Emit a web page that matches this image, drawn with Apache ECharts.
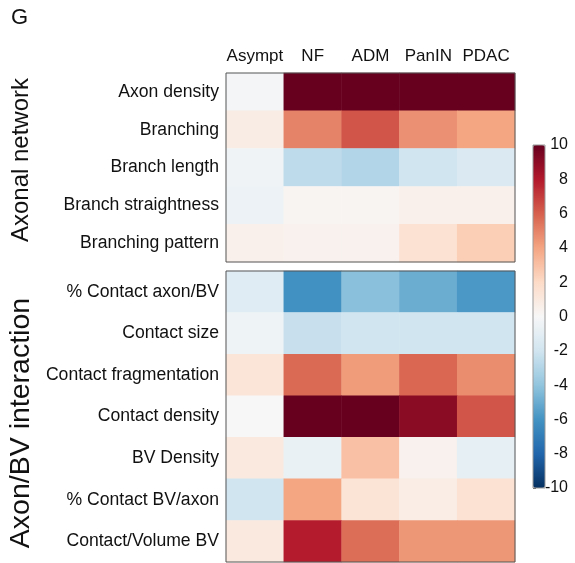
<!DOCTYPE html>
<html>
<head>
<meta charset="utf-8">
<script src="https://cdn.jsdelivr.net/npm/echarts@6/dist/echarts.min.js"></script>
<style>html,body{margin:0;padding:0;background:#fff}#c{width:575px;height:563px}</style>
</head>
<body>
<div id="c"></div>
<script>
var columns = ['Asympt', 'NF', 'ADM', 'PanIN', 'PDAC'];
var networkRows = ['Axon density', 'Branching', 'Branch length', 'Branch straightness', 'Branching pattern'];
var interactionRows = ['% Contact axon/BV', 'Contact size', 'Contact fragmentation', 'Contact density', 'BV Density', '% Contact BV/axon', 'Contact/Volume BV'];
var networkValues = [
  [-0.2, 10, 10, 10, 10],
  [0.8, 5.0, 6.3, 4.6, 4.0],
  [-0.4, -2.6, -3.0, -2.0, -1.5],
  [-0.6, 0.2, 0.2, 0.5, 0.5],
  [0.5, 0.4, 0.4, 1.5, 2.5]
];
var interactionValues = [
  [-1.2, -6.1, -4.2, -5.0, -5.8],
  [-0.5, -2.3, -2.0, -2.0, -2.0],
  [1.3, 5.7, 4.3, 5.8, 4.7],
  [0.0, 10, 10, 9.1, 6.3],
  [1.0, -0.7, 3.0, 0.4, -0.9],
  [-2.0, 4.0, 1.4, 0.7, 1.5],
  [1.0, 7.9, 5.6, 4.4, 4.4]
];
var colorbarTicks = [-10, 10, 2];
var groupTitles = ['Axonal network', 'Axon/BV interaction'];
var panelLetter = 'G';

function toCells(values) {
  var out = [];
  values.forEach(function (row, r) {
    row.forEach(function (v, c) { out.push([c, r, v]); });
  });
  return out;
}

var FONT = 'Liberation Sans, Arial, sans-serif';
var chart = echarts.init(document.getElementById('c'), null, {renderer: 'canvas'});
var catAxisCommon = {
  type: 'category',
  axisLine: {show: false},
  axisTick: {show: false},
  splitLine: {show: false},
  splitArea: {show: false}
};
chart.setOption({
  animation: false,
  backgroundColor: '#fff',
  grid: [
    {left: 226, top: 73, width: 289, height: 189, show: true, borderColor: '#555', borderWidth: 1, backgroundColor: 'transparent', z: 10},
    {left: 226, top: 271, width: 289, height: 291, show: true, borderColor: '#555', borderWidth: 1, backgroundColor: 'transparent', z: 10},
    {left: 533, top: 145, width: 12, height: 343, show: true, borderColor: '#999', borderWidth: 1, backgroundColor: 'transparent', z: 10}
  ],
  xAxis: [
    Object.assign({}, catAxisCommon, {gridIndex: 0, data: columns, position: 'top',
      axisLabel: {show: true, interval: 0, color: '#111', fontSize: 17, fontFamily: FONT, margin: 8}}),
    Object.assign({}, catAxisCommon, {gridIndex: 1, data: columns, axisLabel: {show: false}}),
    {type: 'value', gridIndex: 2, show: false, min: 0, max: 1}
  ],
  yAxis: [
    Object.assign({}, catAxisCommon, {gridIndex: 0, data: networkRows, inverse: true,
      axisLabel: {show: true, interval: 0, color: '#111', fontSize: 17.6, fontFamily: FONT, margin: 7}}),
    Object.assign({}, catAxisCommon, {gridIndex: 1, data: interactionRows, inverse: true,
      axisLabel: {show: true, interval: 0, color: '#111', fontSize: 17.6, fontFamily: FONT, margin: 7}}),
    {type: 'value', gridIndex: 2, position: 'right', min: colorbarTicks[0], max: colorbarTicks[1], interval: colorbarTicks[2],
      axisLine: {show: false}, axisTick: {show: false}, splitLine: {show: false},
      axisLabel: {color: '#111', fontSize: 16, fontFamily: FONT, align: 'right', margin: 23}},
    {type: 'value', gridIndex: 2, position: 'left', min: colorbarTicks[0], max: colorbarTicks[1], interval: colorbarTicks[2],
      axisLine: {show: false}, splitLine: {show: false}, axisLabel: {show: false},
      axisTick: {show: true, inside: true, length: 3, lineStyle: {color: '#555', width: 1}}}
  ],
  visualMap: {
    type: 'continuous', min: colorbarTicks[0], max: colorbarTicks[1], calculable: false,
    seriesIndex: [0, 1], orient: 'vertical', left: 533, top: 145, itemWidth: 12, itemHeight: 343,
    padding: 0, text: null, showLabel: false, hoverLink: false,
    inRange: {color: ['#053061', '#2166ac', '#4393c3', '#92c5de', '#d1e5f0', '#f7f7f7', '#fddbc7', '#f4a582', '#d6604d', '#b2182b', '#67001f']}
  },
  series: [
    {type: 'heatmap', xAxisIndex: 0, yAxisIndex: 0, data: toCells(networkValues), emphasis: {disabled: true}, itemStyle: {borderWidth: 0}},
    {type: 'heatmap', xAxisIndex: 1, yAxisIndex: 1, data: toCells(interactionValues), emphasis: {disabled: true}, itemStyle: {borderWidth: 0}}
  ],
  graphic: [
    {type: 'text', x: 11, y: 7, style: {text: panelLetter, font: '22px ' + FONT, fill: '#111'}},
    {type: 'text', x: 21, y: 160, rotation: Math.PI / 2, style: {text: groupTitles[0], font: '24px ' + FONT, fill: '#111', textAlign: 'center', textVerticalAlign: 'middle'}},
    {type: 'text', x: 21, y: 423, rotation: Math.PI / 2, style: {text: groupTitles[1], font: '28.5px ' + FONT, fill: '#111', textAlign: 'center', textVerticalAlign: 'middle'}}
  ]
});
</script>
</body>
</html>
